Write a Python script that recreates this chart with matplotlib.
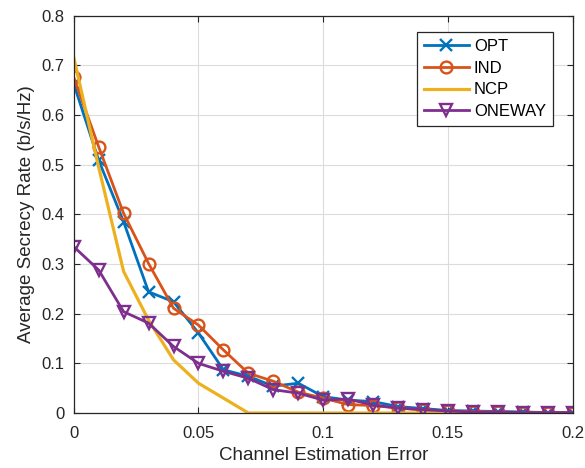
import matplotlib
matplotlib.use('Agg')
import matplotlib.pyplot as plt
import numpy as np

# channel estimation error (x axis)
err = [0.00, 0.01, 0.02, 0.03, 0.04, 0.05, 0.06, 0.07, 0.08, 0.09, 0.10,
       0.11, 0.12, 0.13, 0.14, 0.15, 0.16, 0.17, 0.18, 0.19, 0.20]

opt = [0.663, 0.509, 0.385, 0.244, 0.224, 0.161, 0.087, 0.074, 0.054, 0.060, 0.033,
       0.026, 0.023, 0.013, 0.009, 0.005, 0.004, 0.003, 0.002, 0.001, 0.001]
ind = [0.676, 0.536, 0.402, 0.301, 0.211, 0.177, 0.127, 0.080, 0.064, 0.042, 0.030,
       0.017, 0.015, 0.010, 0.006, 0.004, 0.003, 0.002, 0.001, 0.001, 0.000]
ncp = [0.716, 0.495, 0.285, 0.187, 0.107, 0.060, 0.030, 0.000, 0.000, 0.000, 0.000,
       0.000, 0.000, 0.000, 0.000, 0.000, 0.000, 0.000, 0.000, 0.000, 0.000]
oneway = [0.335, 0.288, 0.204, 0.181, 0.134, 0.100, 0.084, 0.070, 0.047, 0.040, 0.026,
          0.028, 0.016, 0.010, 0.007, 0.004, 0.002, 0.002, 0.001, 0.001, 0.001]

xticks = [0, 0.05, 0.1, 0.15, 0.2]
xticklabels = ['0', '0.05', '0.1', '0.15', '0.2']
yticks = [0, 0.1, 0.2, 0.3, 0.4, 0.5, 0.6, 0.7, 0.8]
yticklabels = ['0', '0.1', '0.2', '0.3', '0.4', '0.5', '0.6', '0.7', '0.8']

plt.rcParams['font.family'] = ['Liberation Sans', 'DejaVu Sans']

fig = plt.figure(figsize=(5.85, 4.68), dpi=100)
ax = fig.add_axes([0.126, 0.1175, 0.853, 0.849])

ax.plot(err, opt, color='#0072BD', lw=2, marker='x', ms=8, mew=1.7, label='OPT')
ax.plot(err, ind, color='#D95319', lw=2, marker='o', ms=8.5, mfc='none', mew=1.7, label='IND')
ax.plot(err, ncp, color='#EDB120', lw=2.3, label='NCP')
ax.plot(err, oneway, color='#7E2F8E', lw=2, marker='v', ms=8.5, mfc='none', mew=1.7, label='ONEWAY')

ax.set_xlim(0, 0.2)
ax.set_ylim(0, 0.8)
ax.set_xticks(xticks)
ax.set_xticklabels(xticklabels)
ax.set_yticks(yticks)
ax.set_yticklabels(yticklabels)
ax.grid(True, color='#DCDCDC', lw=0.8)
ax.set_axisbelow(True)
ax.tick_params(direction='in', top=True, right=True, labelsize=12, length=4, colors='#262626')
ax.tick_params(axis='x', pad=9)
ax.tick_params(axis='y', pad=6.5)
for s in ax.spines.values():
    s.set_color('#262626')
    s.set_linewidth(0.9)

ax.set_xlabel('Channel Estimation Error', fontsize=13.5, color='#262626', labelpad=5)
ax.set_ylabel('Average Secrecy Rate (b/s/Hz)', fontsize=13.5, color='#262626', labelpad=5)

leg = ax.legend(loc='upper right', bbox_to_anchor=(0.96, 0.958), fontsize=12,
                fancybox=False, framealpha=1, edgecolor='#262626',
                handlelength=2.7, borderpad=0.4, labelspacing=0.4, handletextpad=0.3,
                borderaxespad=0)
leg.get_frame().set_linewidth(0.9)

fig.savefig('out.png', dpi=100)
